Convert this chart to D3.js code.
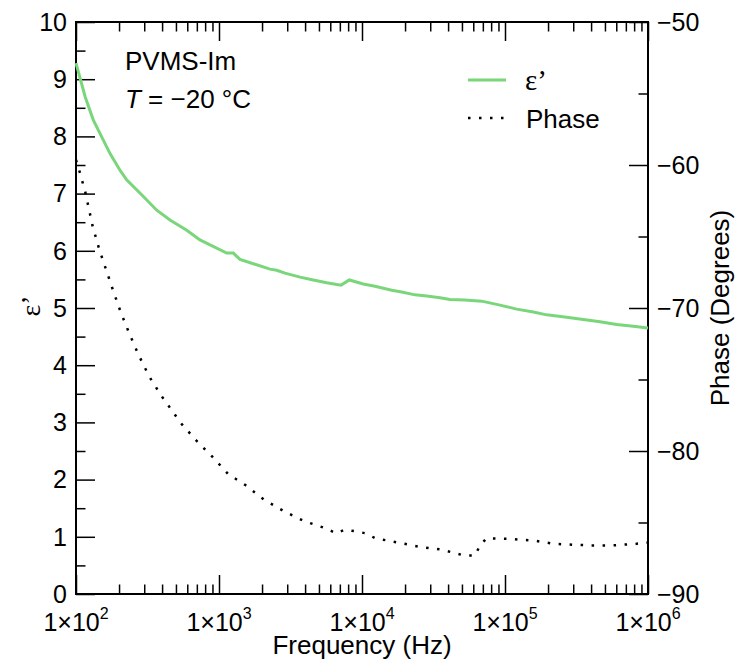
<!DOCTYPE html>
<html>
<head>
<meta charset="utf-8">
<script src="https://cdn.jsdelivr.net/npm/d3@7"></script>
<style>
  html, body { margin: 0; padding: 0; background: #fff; }
  svg { display: block; }
  text { font-family: "Liberation Sans", Arial, Helvetica, sans-serif; fill: #000; }
</style>
</head>
<body>
<svg id="chart" width="737" height="670"></svg>
<script>
// Dielectric permittivity ε' versus frequency (Hz)
const epsFreq = [100, 116, 132, 173, 203, 226, 296, 367, 454, 595, 736, 1132, 1259, 1402, 2273, 2533, 2894,
  3685, 4564, 5664, 7132, 8151, 10211, 12327, 16133, 18950, 23480, 28350, 35120, 41260, 52530,
  68710, 92250, 120700, 157800, 195700, 270100, 352900, 461700, 604000, 789300, 1000000];
const epsValues = [9.28, 8.69, 8.29, 7.70, 7.41, 7.24, 6.95, 6.71, 6.54, 6.36, 6.19, 5.96, 5.96, 5.85, 5.68, 5.66, 5.61,
  5.54, 5.49, 5.44, 5.40, 5.49, 5.42, 5.38, 5.31, 5.28, 5.23, 5.21, 5.18, 5.15, 5.14,
  5.12, 5.05, 4.98, 4.93, 4.88, 4.84, 4.80, 4.76, 4.71, 4.68, 4.65];

// Phase angle (degrees) versus frequency (Hz)
const phaseFreq = [100, 105.5, 116.2, 130.9, 145.5, 162.1, 183.5, 207.4, 238.6, 274.5, 325.5, 392.9, 542.5,
  698.5, 897.9, 1156, 1537, 2064, 2834, 3929, 5557, 6579, 7604, 8794, 10546, 12389, 17770, 25250,
  36260, 51420, 61690, 66880, 74480, 107200, 155200, 223700, 388700, 562900, 811200, 1000000];
const phaseValues = [-59.65, -60.4, -61.9, -64.3, -65.9, -67.3, -68.9, -70.4, -71.9, -73.3, -74.8, -76.1, -78.06,
  -79.3, -80.4, -81.6, -82.4, -83.4, -84.2, -84.9, -85.4, -85.75, -85.5, -85.6, -85.75, -86.1, -86.4, -86.7,
  -86.9, -87.3, -87.3, -86.6, -86.1, -86.15, -86.25, -86.5, -86.6, -86.6, -86.5, -86.4];

// Axis ticks
const xTickExponents = [2, 3, 4, 5, 6];
const leftTicks = [0, 1, 2, 3, 4, 5, 6, 7, 8, 9, 10];
const rightTicks = [-50, -60, -70, -80, -90];

const svg = d3.select("#chart");
const plotLeft = 76, plotRight = 648, plotTop = 22, plotBottom = 594;
const fs = 25;

const x = d3.scaleLog().domain([1e2, 1e6]).range([plotLeft, plotRight]);
const yL = d3.scaleLinear().domain([0, 10]).range([plotBottom, plotTop]);
const yR = d3.scaleLinear().domain([-90, -50]).range([plotBottom, plotTop]);

const majorLen = 19, minorLen = 9.5;

// Minor x ticks: 2..9 within each decade
const xMinor = [];
for (let e = 2; e < 6; e++) for (let m = 2; m <= 9; m++) xMinor.push(m * Math.pow(10, e));
const xMajor = xTickExponents.map(e => Math.pow(10, e));

function styleAxis(g) {
  g.select(".domain").remove();
  g.selectAll(".tick line").attr("stroke", "#000").attr("stroke-width", 1.5);
  g.selectAll(".tick text").remove();
}

// bottom and top axes (ticks pointing inward)
svg.append("g").attr("transform", `translate(0,${plotBottom})`)
  .call(d3.axisBottom(x).tickValues(xMajor).tickSize(-majorLen)).call(styleAxis);
svg.append("g").attr("transform", `translate(0,${plotBottom})`)
  .call(d3.axisBottom(x).tickValues(xMinor).tickSize(-minorLen)).call(styleAxis);
svg.append("g").attr("transform", `translate(0,${plotTop})`)
  .call(d3.axisTop(x).tickValues(xMajor).tickSize(-majorLen)).call(styleAxis);
svg.append("g").attr("transform", `translate(0,${plotTop})`)
  .call(d3.axisTop(x).tickValues(xMinor).tickSize(-minorLen)).call(styleAxis);

// left axis (ε')
svg.append("g").attr("transform", `translate(${plotLeft},0)`)
  .call(d3.axisLeft(yL).tickValues(leftTicks).tickSize(-majorLen)).call(styleAxis);
svg.append("g").attr("transform", `translate(${plotLeft},0)`)
  .call(d3.axisLeft(yL).tickValues(d3.range(0.5, 10, 1)).tickSize(-minorLen)).call(styleAxis);

// right axis (phase)
svg.append("g").attr("transform", `translate(${plotRight},0)`)
  .call(d3.axisRight(yR).tickValues(rightTicks).tickSize(-majorLen)).call(styleAxis);
svg.append("g").attr("transform", `translate(${plotRight},0)`)
  .call(d3.axisRight(yR).tickValues([-55, -65, -75, -85]).tickSize(-minorLen)).call(styleAxis);

// frame
svg.append("rect").attr("x", plotLeft).attr("y", plotTop)
  .attr("width", plotRight - plotLeft).attr("height", plotBottom - plotTop)
  .attr("fill", "none").attr("stroke", "#000").attr("stroke-width", 2);

// tick labels
svg.append("g").selectAll("text").data(leftTicks).join("text")
  .attr("x", plotLeft - 9).attr("y", d => yL(d)).attr("dy", "0.35em")
  .attr("text-anchor", "end").attr("font-size", fs).text(d => d);

svg.append("g").selectAll("text").data(rightTicks).join("text")
  .attr("x", plotRight + 9).attr("y", d => yR(d)).attr("dy", "0.35em")
  .attr("text-anchor", "start").attr("font-size", fs).text(d => "\u2212" + Math.abs(d));

const xl = svg.append("g").selectAll("text").data(xTickExponents).join("text")
  .attr("x", d => x(Math.pow(10, d))).attr("y", 631)
  .attr("text-anchor", "middle").attr("font-size", fs);
xl.append("tspan").text("1\u00d710");
xl.append("tspan").attr("dy", -12).attr("font-size", 16).text(d => d);

// axis titles
svg.append("text").attr("x", (plotLeft + plotRight) / 2).attr("y", 654)
  .attr("text-anchor", "middle").attr("font-size", 26).text("Frequency (Hz)");

svg.append("text").attr("transform", `translate(40,${(plotTop + plotBottom) / 2 - 2}) rotate(-90)`)
  .attr("text-anchor", "middle").attr("font-size", 28)
  .style("font-family", "'Liberation Serif', 'Times New Roman', serif").text("\u03b5\u2019");

svg.append("text").attr("transform", `translate(729,${(plotTop + plotBottom) / 2}) rotate(-90)`)
  .attr("text-anchor", "middle").attr("font-size", 26).text("Phase (Degrees)");

// series
const plot = svg.append("g");
plot.append("path")
  .datum(epsFreq.map((f, i) => [f, epsValues[i]]))
  .attr("fill", "none").attr("stroke", "#7ad67a").attr("stroke-width", 3)
  .attr("d", d3.line().x(d => x(d[0])).y(d => yL(d[1])));

plot.append("path")
  .datum(phaseFreq.map((f, i) => [f, phaseValues[i]]))
  .attr("fill", "none").attr("stroke", "#000").attr("stroke-width", 2.5)
  .attr("stroke-dasharray", "2.5,8.5")
  .attr("d", d3.line().x(d => x(d[0])).y(d => yR(d[1])));

// annotation
svg.append("text").attr("x", 125).attr("y", 70).attr("font-size", 26).text("PVMS-Im");
const ann = svg.append("text").attr("x", 125).attr("y", 108).attr("font-size", 26);
ann.append("tspan").attr("font-style", "italic").text("T");
ann.append("tspan").text(" = \u221220 \u00b0C");

// legend
const lg = svg.append("g");
lg.append("line").attr("x1", 468).attr("x2", 506).attr("y1", 80).attr("y2", 80)
  .attr("stroke", "#7ad67a").attr("stroke-width", 3);
lg.append("text").attr("x", 525).attr("y", 90).attr("font-size", 29)
  .style("font-family", "'Liberation Serif', 'Times New Roman', serif").text("\u03b5\u2019");
lg.append("line").attr("x1", 468).attr("x2", 508).attr("y1", 118).attr("y2", 118)
  .attr("stroke", "#000").attr("stroke-width", 2.5).attr("stroke-dasharray", "2.5,8.5");
lg.append("text").attr("x", 526).attr("y", 128).attr("font-size", 26).text("Phase");
</script>
</body>
</html>
